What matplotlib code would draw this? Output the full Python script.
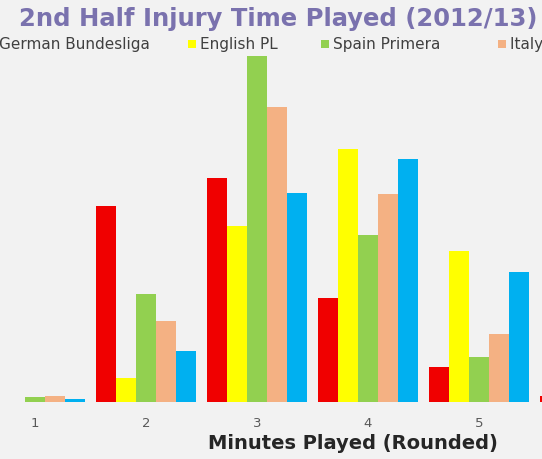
import numpy as np
import matplotlib.pyplot as plt
from matplotlib.patches import Rectangle

# Minutos de descuento jugados (redondeados)
minutes = [1, 2, 3, 4, 5, 6]
leagues = ["German Bundesliga", "English PL", "Spain Primera", "Italy Serie A", "France Ligue 1"]
bundesliga = [0.0, 19.6, 22.4, 10.4, 3.5, 0.6]
english_pl = [0.0, 2.4, 17.6, 25.3, 15.1, 1.0]
spain = [0.5, 10.8, 34.6, 16.7, 4.5, 1.0]
italy = [0.6, 8.1, 29.5, 20.8, 6.8, 1.0]
france = [0.3, 5.1, 20.9, 24.3, 13.0, 1.0]

series = [bundesliga, english_pl, spain, italy, france]
colors = ["#F00000", "#FFFF00", "#92D050", "#F4B183", "#00B0F0"]

fig = plt.figure(figsize=(5.42, 4.60), dpi=100)
fig.patch.set_facecolor("#F2F2F2")

# el grafico original esta recortado, asi que el eje ocupa todo el ancho
ax = fig.add_axes([0.0, 57 / 460, 1.0, 348 / 460])
ax.set_facecolor("#F2F2F2")

x = np.array(minutes, dtype=float)
w = 0.18
for k, (vals, col, lab) in enumerate(zip(series, colors, leagues)):
    ax.bar(x + (k - 2) * w, vals, width=w, color=col, label=lab, linewidth=0)

ax.set_xlim((0 - 35) / 111 + 1, (542 - 35) / 111 + 1)
ax.set_ylim(0, 34.8)
ax.set_xticks(minutes[:5])
ax.set_xticklabels([str(m) for m in minutes[:5]], fontsize=9.5, color="#595959")
ax.tick_params(axis="x", length=0, pad=10)
ax.set_yticks([])
for s in ax.spines.values():
    s.set_visible(False)

ax.set_xlabel("Minutes Played (Rounded)", fontsize=14, fontweight="bold", color="#262626")
ax.xaxis.set_label_coords(353 / 542, -31 / 348)

fig.text(19 / 542, 1 - 19 / 460, "2nd Half Injury Time Played (2012/13)", fontsize=17.5,
         fontweight="bold", color="#7A72AE", ha="left", va="center")

# leyenda en una fila (recortada por los lados como en el original)
leg_y = 1 - 45 / 460
marker_px = [-10, 188, 321, 498, 680]
for k, (lab, col) in enumerate(zip(leagues, colors)):
    if k == 0:
        fig.text(150 / 542, leg_y, lab, fontsize=11, color="#404040", ha="right", va="center")
        continue
    fig.patches.append(Rectangle((marker_px[k] / 542, leg_y - 4 / 460), 8 / 542, 8 / 460,
                                 transform=fig.transFigure, facecolor=col, edgecolor="none"))
    fig.text((marker_px[k] + 12) / 542, leg_y, lab, fontsize=11, color="#404040",
             ha="left", va="center")

fig.savefig("out.png", dpi=100, facecolor=fig.get_facecolor())
